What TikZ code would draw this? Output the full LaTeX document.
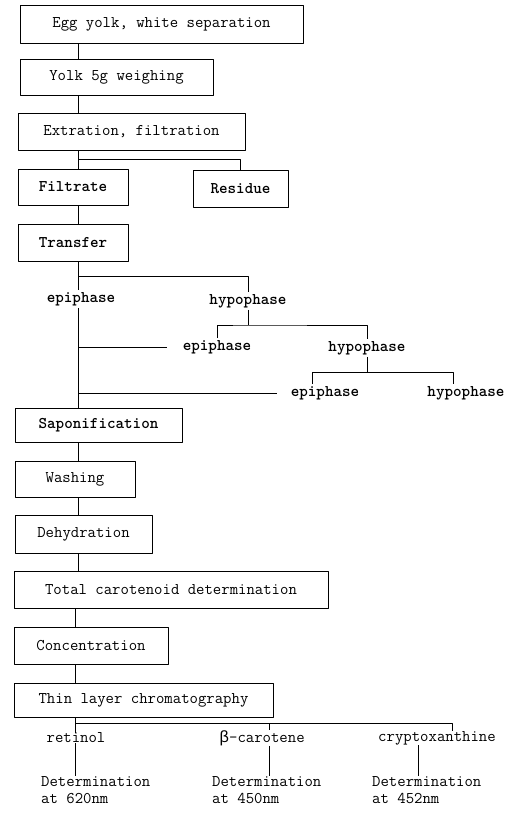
\documentclass[tikz,border=0pt]{standalone}
\usepackage{fontspec}
\newfontfamily\betafont{Liberation Mono}

\begin{document}
\begin{tikzpicture}[x=1pt,y=-1pt,line join=round]
    \tikzstyle{stepbox} = [draw,line width=.9pt,inner sep=0pt,
                           font=\ttfamily\fontsize{16.3}{18}\selectfont]
    \tikzstyle{boldbox} = [stepbox,font=\ttfamily\bfseries\fontsize{16.3}{18}\selectfont]
    \tikzstyle{phase} = [inner sep=2pt,font=\ttfamily\bfseries\fontsize{16.3}{18}\selectfont]
    \tikzstyle{result} = [inner sep=0pt,align=left,
                          font=\ttfamily\fontsize{16.3}{17.5}\selectfont]
    \tikzstyle{link} = [line width=.7pt]
    \useasboundingbox (0,0) rectangle (520,830);
    % the main line of steps
    \node[stepbox,minimum width=283pt,minimum height=38pt] (egg) at (161.5,24)
        {Egg yolk, white separation};
    \node[stepbox,minimum width=193pt,minimum height=36pt] (yolk) at (116.5,77)
        {Yolk 5g weighing};
    \node[stepbox,minimum width=227pt,minimum height=37pt] (extr) at (131.5,131.5)
        {Extration, filtration};
    \node[boldbox,minimum width=110pt,minimum height=36pt] (filt) at (73,187) {Filtrate};
    \node[boldbox,minimum width=95pt,minimum height=37pt] (resid) at (240.5,188.5) {Residue};
    \node[boldbox,minimum width=110pt,minimum height=37pt] (trans) at (73,242.5) {Transfer};
    \node[boldbox,minimum width=167pt,minimum height=34pt] (sapon) at (98.5,425)
        {Saponification};
    \node[stepbox,minimum width=120pt,minimum height=36pt] (wash) at (75,479) {Washing};
    \node[stepbox,minimum width=137pt,minimum height=38pt] (dehyd) at (83.5,534)
        {Dehydration};
    \node[stepbox,minimum width=314pt,minimum height=37pt] (total) at (171,589.5)
        {Total carotenoid determination};
    \node[stepbox,minimum width=154pt,minimum height=37pt] (conc) at (91,645.5)
        {Concentration};
    \node[stepbox,minimum width=259pt,minimum height=34pt] (thin) at (143.5,700)
        {Thin layer chromatography};
    % phases
    \node[phase] (epiA) at (81,299) {epiphase};
    \node[phase] (hypoA) at (248,301) {hypophase};
    \node[phase] (epiB) at (217,347) {epiphase};
    \node[phase] (hypoB) at (367,348) {hypophase};
    \node[phase] (epiC) at (325,393) {epiphase};
    \node[phase] (hypoC) at (466,393) {hypophase};
    % pigments
    \node[result] (retinol) at (76,738) {retinol};
    \node[result] (beta) at (262,738) {{\betafont β}-carotene};
    \node[result] (crypto) at (437,738) {cryptoxanthine};
    \node[result,anchor=north west] (detA) at (41,776) {Determination\\at 620nm};
    \node[result,anchor=north west] (detB) at (212,776) {Determination\\at 450nm};
    \node[result,anchor=north west] (detC) at (372,776) {Determination\\at 452nm};
    % connectors
    \coordinate (spine) at (78,0);
    \coordinate (spineB) at (75,0);
    \coordinate (forkA) at (78,159);
    \coordinate (forkB) at (78,276);
    \coordinate (forkC) at (248,325);
    \coordinate (forkDl) at (312,372);
    \coordinate (forkDr) at (453,372);
    \coordinate (forkEl) at (75,723);
    \coordinate (forkEm) at (269,723);
    \coordinate (forkEr) at (452,723);
    \draw[link] (egg.south -| spine) -- (yolk.north -| spine);
    \draw[link] (yolk.south -| spine) -- (extr.north -| spine);
    \draw[link] (extr.south -| spine) -- (filt.north -| spine);
    \draw[link] (forkA) -| (resid.north);
    \draw[link] (filt.south -| spine) -- (trans.north -| spine);
    \draw[link] (trans.south -| spine) -- (epiA.north -| spine);
    \draw[link] (forkB) -| (hypoA.north);
    \draw[link] (epiA.south -| spine) -- (sapon.north -| spine);
    \draw[link,shorten >=14pt] (spine |- epiB) -- (epiB.west);
    \draw[link,shorten >=12pt] (spine |- epiC) -- (epiC.west);
    \draw[link] (hypoA.south) -- (forkC);
    \draw[link] (epiB.north) |- (forkC) -| (hypoB.north);
    \draw[link] (hypoB.south) -- (hypoB.south |- forkDl);
    \draw[link] (forkDl |- epiC.north) -- (forkDl) -- (forkDr) -- (forkDr |- hypoC.north);
    \draw[link] (sapon.south -| spine) -- (wash.north -| spine);
    \draw[link] (wash.south -| spine) -- (dehyd.north -| spine);
    \draw[link] (dehyd.south -| spine) -- (total.north -| spine);
    \draw[link] (total.south -| spineB) -- (conc.north -| spineB);
    \draw[link] (conc.south -| spineB) -- (thin.north -| spineB);
    \draw[link] (thin.south -| spineB) -- (forkEl) -- (forkEr) -- (forkEr |- crypto.north);
    \draw[link] (forkEl) -- (forkEl |- retinol.north);
    \draw[link] (forkEm) -- (forkEm |- beta.north);
    \draw[link] (retinol.south -| forkEl) -- (detA.north -| forkEl);
    \draw[link] (beta.south -| forkEm) -- (detB.north -| forkEm);
    \draw[link] (crypto.south -| 418,0) -- (detC.north -| 418,0);
\end{tikzpicture}
\end{document}
